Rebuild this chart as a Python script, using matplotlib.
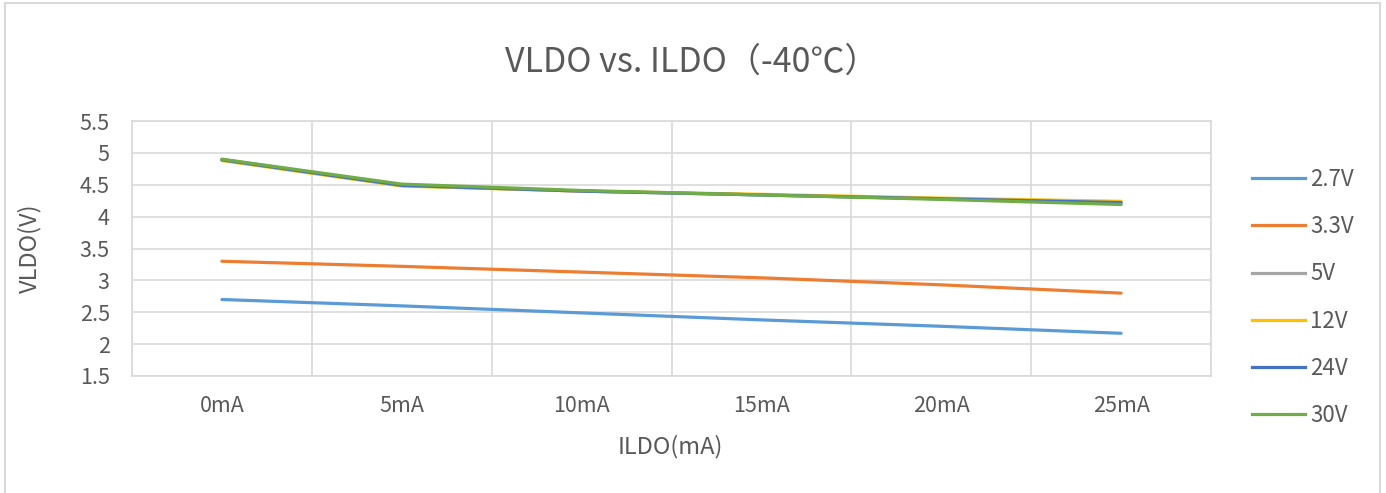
import matplotlib
matplotlib.use("Agg")
import matplotlib.pyplot as plt
from matplotlib.patches import Rectangle
from matplotlib.lines import Line2D

plt.rcParams['font.family'] = ['Noto Sans CJK SC', 'DejaVu Sans']

categories = ["0mA", "5mA", "10mA", "15mA", "20mA", "25mA"]
series_names = ["2.7V", "3.3V", "5V", "12V", "24V", "30V"]
v_2_7 = [2.70, 2.60, 2.49, 2.38, 2.28, 2.17]
v_3_3 = [3.30, 3.22, 3.13, 3.04, 2.93, 2.80]
v_5 = [4.90, 4.49, 4.40, 4.34, 4.28, 4.21]
v_12 = [4.88, 4.48, 4.40, 4.35, 4.29, 4.24]
v_24 = [4.89, 4.49, 4.40, 4.34, 4.28, 4.22]
v_30 = [4.90, 4.51, 4.41, 4.34, 4.27, 4.19]
y_ticks = [1.5, 2, 2.5, 3, 3.5, 4, 4.5, 5, 5.5]
y_tick_labels = ["1.5", "2", "2.5", "3", "3.5", "4", "4.5", "5", "5.5"]

colors = ["#5B9BD5", "#ED7D31", "#A5A5A5", "#FFC000", "#4472C4", "#70AD47"]
all_series = [v_2_7, v_3_3, v_5, v_12, v_24, v_30]

W, H = 1386, 493
fig = plt.figure(figsize=(W / 100, H / 100), dpi=100)
fig.patch.set_facecolor("white")

# chart border
fig.patches.append(Rectangle((5 / W, -0.01), (1380 - 5) / W, 1 - 3 / H + 0.01,
                             transform=fig.transFigure, fill=False,
                             edgecolor="#d9d9d9", linewidth=1.5))

ax = fig.add_axes([132 / W, 1 - 376 / H, (1211 - 132) / W, (376 - 121) / H])
x = [i + 0.5 for i in range(len(categories))]
for vals, c, name in zip(all_series, colors, series_names):
    ax.plot(x, vals, color=c, linewidth=2.3, solid_capstyle="round", label=name)

ax.set_xlim(0, len(categories))
ax.set_ylim(1.5, 5.5)
ax.set_yticks(y_ticks)
ax.set_yticklabels(y_tick_labels)
ax.set_xticks(x)
ax.set_xticklabels(categories)
ax.set_xticks(range(len(categories) + 1), minor=True)
ax.grid(True, which="minor", axis="x", color="#d9d9d9", linewidth=1.2)
ax.grid(True, which="major", axis="y", color="#d9d9d9", linewidth=1.2)
ax.set_axisbelow(True)
for s in ax.spines.values():
    s.set_color("#d9d9d9")
    s.set_linewidth(1.2)
ax.tick_params(which="both", length=0, colors="#595959", labelsize=15.5)
ax.tick_params(axis="x", pad=14)
ax.tick_params(axis="y", pad=16)

fig.text(670 / W, 1 - 447 / H, "ILDO(mA)", ha="center", va="center",
         fontsize=17, color="#595959")
fig.text(30 / W, 1 - 248 / H, "VLDO(V)", ha="center", va="center",
         rotation=90, fontsize=17, color="#595959")

fig.text(692 / W, 1 - 62 / H, "VLDO vs. ILDO（-40℃）", ha="center", va="center",
         fontsize=24.5, color="#595959")

handles = [Line2D([0], [0], color=c, linewidth=2.3) for c in colors]
leg = fig.legend(handles, series_names, loc="upper left",
                 bbox_to_anchor=(1232 / W, 1 - 148 / H), frameon=False,
                 fontsize=16, labelcolor="#595959", handlelength=2.4,
                 handletextpad=0.22, labelspacing=1.09)

fig.savefig("out.png", dpi=100)
